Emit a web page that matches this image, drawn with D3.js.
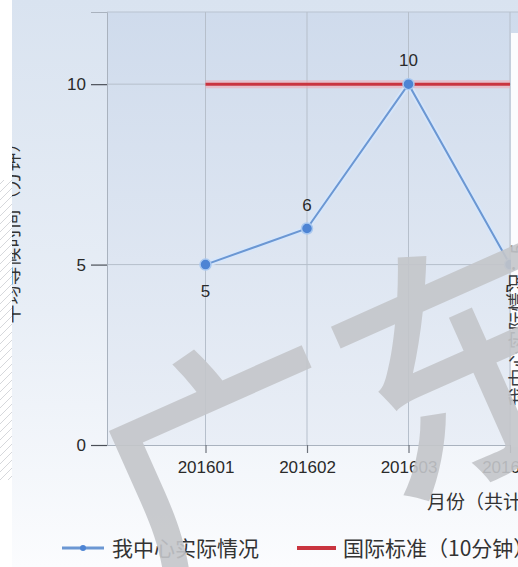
<!DOCTYPE html>
<html>
<head>
<meta charset="utf-8">
<script src="https://cdn.jsdelivr.net/npm/d3@7/dist/d3.min.js"></script>
<style>
  html, body { margin: 0; padding: 0; background: #ffffff; }
  svg { display: block; }
  text { font-family: "Liberation Sans", "Noto Sans CJK SC", sans-serif; }
  .cjk { font-family: "Noto Sans CJK SC", sans-serif; }
</style>
</head>
<body>
<script>
// Monthly average waiting time vs. the international standard
const months = ["201601", "201602", "201603", "201604"];
const actualValues = [5, 6, 10, 5];
const standardValues = [10, 10, 10, 10];
const yTicks = [0, 5, 10];
const seriesNames = ["我中心实际情况", "国际标准（10分钟）"];
const yTitle = "平均等候时间（分钟）";
const xTitle = "月份（共计4个月）";

const W = 518, H = 567;
const svg = d3.select("body").append("svg").attr("width", W).attr("height", H);
const defs = svg.append("defs");

const bgGrad = defs.append("linearGradient").attr("id", "bg").attr("x1", 0).attr("y1", 0).attr("x2", 0).attr("y2", 1);
bgGrad.append("stop").attr("offset", "0%").attr("stop-color", "#d9e3f0");
bgGrad.append("stop").attr("offset", "55%").attr("stop-color", "#e8eef6");
bgGrad.append("stop").attr("offset", "100%").attr("stop-color", "#fbfcfe");

const plotGrad = defs.append("linearGradient").attr("id", "plotbg").attr("x1", 0).attr("y1", 0).attr("x2", 0).attr("y2", 1);
plotGrad.append("stop").attr("offset", "0%").attr("stop-color", "#cfdbec");
plotGrad.append("stop").attr("offset", "100%").attr("stop-color", "#e9eef6");

const hatch = defs.append("pattern").attr("id", "hatch").attr("patternUnits", "userSpaceOnUse")
  .attr("width", 8).attr("height", 8);
hatch.append("path").attr("d", "M0,8 L8,0").attr("stroke", "#d6d8dc").attr("stroke-width", 1);

defs.append("clipPath").attr("id", "chartclip").append("rect").attr("x", 12).attr("y", 0).attr("width", W - 12).attr("height", H);

// Scales: categories sit at index 1..n, index 0 is the plot's left edge
const x = d3.scaleLinear().domain([0, months.length]).range([104, 510]);
const y = d3.scaleLinear().domain([0, 12]).range([445, 12]);
const plotLeft = 107, plotRight = W;

const chart = svg.append("g").attr("clip-path", "url(#chartclip)");
chart.append("rect").attr("x", 12).attr("y", 0).attr("width", W - 12).attr("height", H).attr("fill", "url(#bg)");

// plot area
chart.append("rect").attr("x", plotLeft).attr("y", y(12)).attr("width", plotRight - plotLeft)
  .attr("height", y(0) - y(12)).attr("fill", "url(#plotbg)");
chart.append("line").attr("x1", plotLeft).attr("x2", plotRight).attr("y1", y(12)).attr("y2", y(12))
  .attr("stroke", "#b9c3d0").attr("stroke-width", 1);

// grid
chart.append("g").selectAll("line").data(yTicks.slice(1)).join("line")
  .attr("x1", plotLeft).attr("x2", plotRight).attr("y1", d => y(d)).attr("y2", d => y(d))
  .attr("stroke", "#b6bfcb").attr("stroke-width", 1);
chart.append("g").selectAll("line").data(months).join("line")
  .attr("x1", (d, i) => x(i + 1)).attr("x2", (d, i) => x(i + 1)).attr("y1", y(12)).attr("y2", y(0))
  .attr("stroke", "#b6bfcb").attr("stroke-width", 1);

// axes
const yAxis = chart.append("g").attr("transform", `translate(${plotLeft},0)`)
  .call(d3.axisLeft(y).tickValues(yTicks).tickSize(16).tickPadding(5).tickFormat(d3.format("d")));
yAxis.select(".domain").attr("stroke", "#a9b2be");
yAxis.selectAll(".tick line").attr("stroke", "#4a4f57").attr("stroke-width", 1.2);
yAxis.selectAll(".tick text").attr("font-size", 17).attr("fill", "#2a2a2a");

const xAxis = chart.append("g").attr("transform", `translate(0,${y(0)})`)
  .call(d3.axisBottom(x).tickValues(months.map((m, i) => i + 1)).tickSize(8).tickPadding(8)
    .tickFormat(d => months[d - 1]));
xAxis.select(".domain").attr("d", `M${plotLeft},0.5H${plotRight}`).attr("stroke", "#a9b2be");
xAxis.selectAll(".tick line").attr("stroke", "#6d737c").attr("stroke-width", 1.2);
xAxis.selectAll(".tick text").attr("font-size", 17).attr("fill", "#2a2a2a");

// standard line (from the first month onward)
const line = d3.line().x((d, i) => x(i + 1)).y(d => y(d));
chart.append("path").datum(standardValues).attr("d", line).attr("fill", "none")
  .attr("stroke", "#f3a8b2").attr("stroke-width", 8).attr("opacity", 0.55);
chart.append("path").datum(standardValues).attr("d", line).attr("fill", "none")
  .attr("stroke", "#c9343f").attr("stroke-width", 3);

// actual series
chart.append("path").datum(actualValues).attr("d", line).attr("fill", "none")
  .attr("stroke", "#d6e6fb").attr("stroke-width", 6).attr("opacity", 0.8);
chart.append("path").datum(actualValues).attr("d", line).attr("fill", "none")
  .attr("stroke", "#6b97d3").attr("stroke-width", 2);
chart.append("g").selectAll("circle").data(actualValues).join("circle")
  .attr("cx", (d, i) => x(i + 1)).attr("cy", d => y(d)).attr("r", 5.5)
  .attr("fill", "#4d84d4").attr("stroke", "#a9c8f0").attr("stroke-width", 1.5);

// value labels: below for low points, above otherwise
const labelBelow = [true, false, false, true];
chart.append("g").selectAll("text").data(actualValues).join("text")
  .attr("x", (d, i) => x(i + 1))
  .attr("y", (d, i) => labelBelow[i] ? y(d) + 32 : y(d) - 18)
  .attr("text-anchor", "middle").attr("font-size", 17).attr("fill", "#2a2a2a")
  .text(d => d);

// side panel on the right edge
chart.append("rect").attr("x", 511).attr("y", 33).attr("width", 10).attr("height", 414).attr("fill", "#fbfcfe");
chart.append("text").attr("class", "cjk")
  .attr("transform", "translate(525,325) rotate(-90)")
  .attr("text-anchor", "middle").attr("font-size", 19).attr("fill", "#3a3d42")
  .text(seriesNames[0] + "：" + actualValues[3]);

// titles
chart.append("text").attr("class", "cjk")
  .attr("transform", `translate(19,${(y(0) + y(12)) / 2}) rotate(-90)`)
  .attr("text-anchor", "middle").attr("font-size", 19).attr("fill", "#333")
  .text(yTitle);
chart.append("text").attr("class", "cjk").attr("x", 427).attr("y", 509)
  .attr("font-size", 19).attr("fill", "#333").text(xTitle);

// legend
const legend = chart.append("g").attr("transform", "translate(0,548)");
legend.append("line").attr("x1", 62).attr("x2", 104).attr("y1", 0).attr("y2", 0)
  .attr("stroke", "#6b97d3").attr("stroke-width", 3);
legend.append("circle").attr("cx", 83).attr("cy", 0).attr("r", 3).attr("fill", "#4d84d4");
legend.append("text").attr("class", "cjk").attr("x", 112).attr("y", 8).attr("font-size", 21)
  .attr("fill", "#333").text(seriesNames[0]);
legend.append("line").attr("x1", 297).attr("x2", 336).attr("y1", 0).attr("y2", 0)
  .attr("stroke", "#c9343f").attr("stroke-width", 4);
legend.append("text").attr("class", "cjk").attr("x", 343).attr("y", 8).attr("font-size", 21)
  .attr("fill", "#333").text(seriesNames[1]);

// watermark over the chart
chart.append("text").attr("class", "cjk")
  .attr("transform", "translate(150,612) rotate(-24)")
  .attr("font-size", 262).attr("font-weight", 500).attr("fill", "#c4c6ca").attr("opacity", 0.9)
  .text("广东");

// page margin on the left
svg.append("rect").attr("x", 0).attr("y", 0).attr("width", 12).attr("height", H).attr("fill", "#ffffff");
svg.append("rect").attr("x", 0).attr("y", 180).attr("width", 12).attr("height", 300).attr("fill", "url(#hatch)");
</script>
</body>
</html>
